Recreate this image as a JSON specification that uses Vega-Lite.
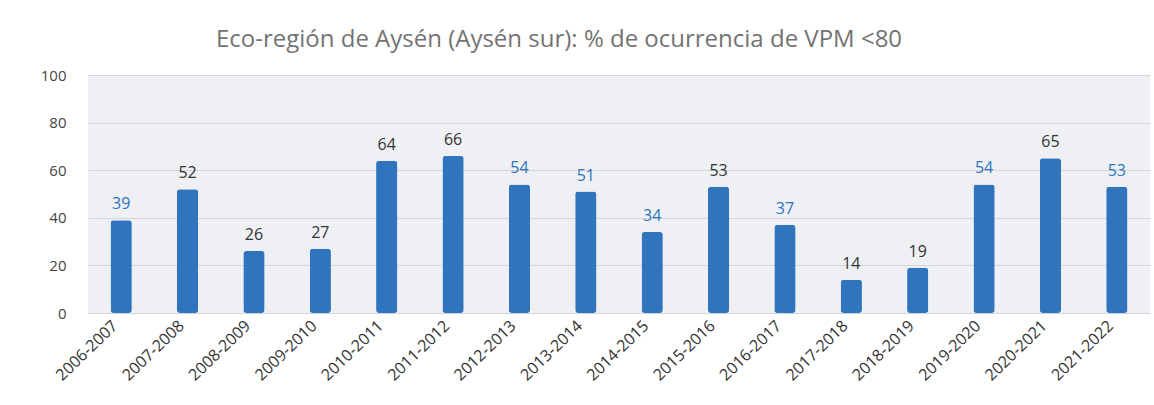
{
  "$schema": "https://vega.github.io/schema/vega-lite/v6.json",
  "autosize": {"type": "none"},
  "width": 1062,
  "height": 238,
  "padding": {"left": 88, "top": 75, "right": 4, "bottom": 92},
  "background": "#ffffff",
  "title": {
    "text": "Eco-región de Aysén (Aysén sur): % de ocurrencia de VPM <80",
    "font": "Open Sans",
    "fontSize": 24,
    "fontWeight": "normal",
    "color": "#737373",
    "anchor": "middle",
    "dx": -60,
    "offset": 16
  },
  "data": {
    "values": [
      {"season": "2006-2007", "value": 39, "hl": "blue"},
      {"season": "2007-2008", "value": 52, "hl": "dark"},
      {"season": "2008-2009", "value": 26, "hl": "dark"},
      {"season": "2009-2010", "value": 27, "hl": "dark"},
      {"season": "2010-2011", "value": 64, "hl": "dark"},
      {"season": "2011-2012", "value": 66, "hl": "dark"},
      {"season": "2012-2013", "value": 54, "hl": "blue"},
      {"season": "2013-2014", "value": 51, "hl": "blue"},
      {"season": "2014-2015", "value": 34, "hl": "blue"},
      {"season": "2015-2016", "value": 53, "hl": "dark"},
      {"season": "2016-2017", "value": 37, "hl": "blue"},
      {"season": "2017-2018", "value": 14, "hl": "dark"},
      {"season": "2018-2019", "value": 19, "hl": "dark"},
      {"season": "2019-2020", "value": 54, "hl": "blue"},
      {"season": "2020-2021", "value": 65, "hl": "dark"},
      {"season": "2021-2022", "value": 53, "hl": "blue"}
    ]
  },
  "config": {
    "view": {"fill": "#eef0f4", "stroke": null},
    "font": "Open Sans"
  },
  "encoding": {
    "x": {
      "field": "season",
      "type": "nominal",
      "sort": null,
      "scale": {"paddingInner": 0.68, "paddingOuter": 0.34},
      "axis": {
        "title": null,
        "labelAngle": -44,
        "labelAlign": "right",
        "labelBaseline": "middle",
        "labelFontSize": 16,
        "labelColor": "#333333",
        "labelPadding": 10,
        "labelOffset": -6,
        "ticks": false,
        "domain": false,
        "grid": false
      }
    },
    "y": {
      "field": "value",
      "type": "quantitative",
      "scale": {"domain": [0, 100]},
      "axis": {
        "title": null,
        "values": [0, 20, 40, 60, 80, 100],
        "labelFontSize": 15,
        "labelColor": "#444444",
        "labelPadding": 22,
        "ticks": false,
        "domain": false,
        "grid": true,
        "gridColor": "#d2d5da",
        "gridWidth": 1
      }
    }
  },
  "layer": [
    {
      "mark": {"type": "bar", "color": "#2f74bd", "cornerRadius": 3}
    },
    {
      "mark": {"type": "text", "dy": -16, "fontSize": 16, "fontWeight": "normal", "baseline": "middle"},
      "encoding": {
        "text": {"field": "value", "type": "quantitative"},
        "color": {
          "field": "hl",
          "type": "nominal",
          "scale": {"domain": ["blue", "dark"], "range": ["#2f74bd", "#333333"]},
          "legend": null
        }
      }
    }
  ]
}
